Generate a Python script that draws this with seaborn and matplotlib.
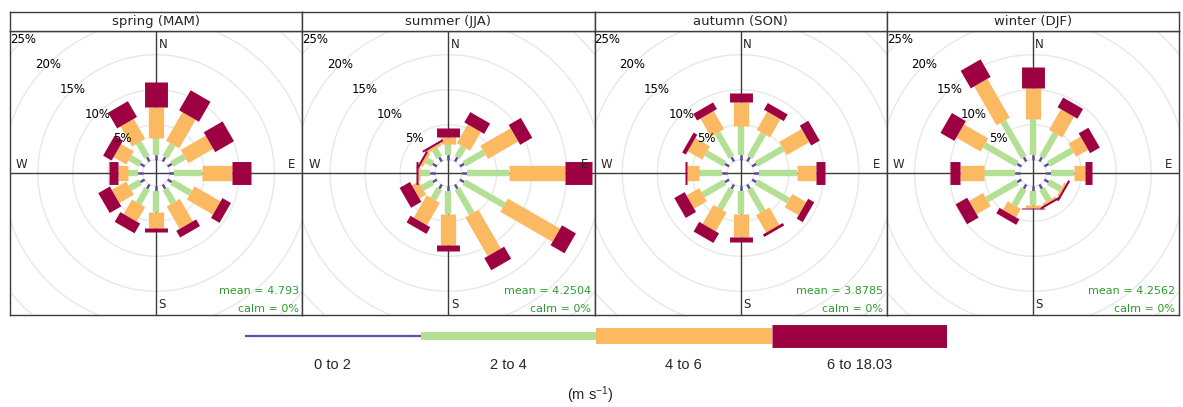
import numpy as np
import matplotlib
matplotlib.use("Agg")
import matplotlib.pyplot as plt
import seaborn as sns

# ---------------- data ----------------
seasons = ["spring (MAM)", "summer (JJA)", "autumn (SON)", "winter (DJF)"]
directions = [0, 30, 60, 90, 120, 150, 180, 210, 240, 270, 300, 330]
speed_labels = ["0 to 2", "2 to 4", "4 to 6", "6 to 18.03"]
mean_speed = ["4.793", "4.2504", "3.8785", "4.2562"]
calm_pct = ["0", "0", "0", "0"]
ring_labels = [5, 10, 15, 20, 25]

# frequency (%) per direction for each speed interval
spring_0to2 = [0.7, 0.7, 0.7, 0.7, 0.7, 0.7, 0.7, 0.7, 0.7, 0.7, 0.7, 0.7]
spring_2to4 = [2.4, 2.1, 2.1, 3.9, 3.1, 2.3, 2.9, 2.4, 1.7, 1.4, 1.7, 2.4]
spring_4to6 = [4.4, 4.7, 4.1, 4.4, 4.3, 3.7, 2.3, 2.4, 2.4, 1.4, 2.1, 3.3]
spring_6up = [3.6, 3.3, 3.1, 2.6, 1.4, 1.1, 0.6, 1.6, 1.9, 1.3, 1.4, 2.6]

summer_0to2 = [0.7, 0.7, 0.7, 0.7, 0.7, 0.7, 0.7, 0.7, 0.7, 0.7, 0.7, 0.7]
summer_2to4 = [1.6, 1.7, 3.3, 6.1, 6.6, 4.1, 3.3, 1.7, 1.7, 1.4, 1.0, 1.3]
summer_4to6 = [1.0, 3.1, 5.0, 7.9, 8.6, 6.4, 4.4, 3.7, 1.1, 0.3, 0.4, 0.4]
summer_6up = [1.3, 1.7, 2.0, 3.9, 2.3, 2.0, 0.9, 1.1, 1.7, 0.3, 0.3, 0.3]

autumn_0to2 = [0.7, 0.7, 0.7, 0.7, 0.7, 0.7, 0.7, 0.7, 0.7, 0.7, 0.7, 0.7]
autumn_2to4 = [4.1, 3.9, 4.4, 5.4, 5.3, 3.7, 3.3, 3.3, 3.6, 3.3, 3.1, 4.0]
autumn_4to6 = [3.4, 3.0, 3.7, 2.7, 2.3, 2.9, 3.3, 3.1, 2.1, 1.7, 2.4, 3.0]
autumn_6up = [1.3, 1.1, 1.4, 1.4, 1.0, 0.4, 0.6, 1.6, 1.7, 0.4, 0.6, 1.1]

winter_0to2 = [0.7, 0.7, 0.7, 0.7, 0.7, 0.7, 0.7, 0.7, 0.7, 0.7, 0.7, 0.7]
winter_2to4 = [5.1, 3.9, 3.9, 3.3, 2.0, 1.9, 2.0, 2.7, 5.0, 4.4, 5.4, 5.9]
winter_4to6 = [4.4, 3.4, 2.0, 1.6, 0.3, 0.3, 0.4, 1.4, 2.3, 3.4, 4.0, 6.4]
winter_6up = [3.1, 1.6, 1.6, 1.0, 0.3, 0.3, 0.15, 0.9, 1.9, 1.4, 2.3, 2.9]

season_data = [
    [spring_0to2, spring_2to4, spring_4to6, spring_6up],
    [summer_0to2, summer_2to4, summer_4to6, summer_6up],
    [autumn_0to2, autumn_2to4, autumn_4to6, autumn_6up],
    [winter_0to2, winter_2to4, winter_4to6, winter_6up],
]

# ---------------- style ----------------
sns.set_theme(style="white")
plt.rcParams["font.family"] = ["DejaVu Sans"]
plt.rcParams["mathtext.fontset"] = "custom"
plt.rcParams["mathtext.rm"] = "Liberation Sans"
plt.rcParams["mathtext.it"] = "Liberation Sans:italic"

colors = sns.color_palette(["#5E4FA2", "#B4E096", "#FBBA62", "#9E0142"])
paddle_lw = [1.8, 4.6, 11.0, 16.5]   # points
legend_lw = [1.6, 5.8, 11.5, 16.5]
grid_col = "#e8e8e8"
axis_col = "#3c3c3c"
calm_col = "#2E9B2E"

W, H = 1183, 407
fig = plt.figure(figsize=(W / 100, H / 100), dpi=100)
fig.patch.set_facecolor("white")

panel_left = 10.0
panel_w = 292.25
strip_top = 12.0
panel_top = 31.0
panel_bottom = 315.0
px_per_unit = 7.0
offset = 1.9
xhalf = panel_w / 2 / px_per_unit
yhalf = (panel_bottom - panel_top) / 2 / px_per_unit

theta_circle = np.linspace(0, 2 * np.pi, 361)
lab_ang = np.deg2rad(315)

for i, season in enumerate(seasons):
    x0 = panel_left + i * panel_w
    ax = fig.add_axes([x0 / W, 1 - panel_bottom / H, panel_w / W,
                       (panel_bottom - panel_top) / H])
    sax = fig.add_axes([x0 / W, 1 - panel_top / H, panel_w / W,
                        (panel_top - strip_top) / H])

    ax.set_xlim(-xhalf, xhalf)
    ax.set_ylim(-yhalf, yhalf)
    ax.set_xticks([])
    ax.set_yticks([])
    ax.set_facecolor("white")
    for sp in ax.spines.values():
        sp.set_color(axis_col)
        sp.set_linewidth(1.0)

    # grid circles
    for k in range(0, 40, 5):
        r = offset + k
        ax.plot(r * np.sin(theta_circle), r * np.cos(theta_circle),
                color=grid_col, lw=1.0, zorder=1)
    # crosshair
    ax.axhline(0, color=axis_col, lw=1.0, zorder=2)
    ax.axvline(0, color=axis_col, lw=1.0, zorder=2)

    # paddles
    bins = season_data[i]
    for d_idx, d in enumerate(directions):
        ang = np.deg2rad(d)
        r0 = offset
        for j in range(4):
            v = bins[j][d_idx]
            r1 = r0 + v
            ax.plot([r0 * np.sin(ang), r1 * np.sin(ang)],
                    [r0 * np.cos(ang), r1 * np.cos(ang)],
                    color=colors[j], lw=paddle_lw[j],
                    solid_capstyle="butt", zorder=3)
            r0 = r1

    # percentage labels
    for k in ring_labels:
        r = offset + k
        ax.text(r * np.sin(lab_ang), r * np.cos(lab_ang), f"{k}%",
                ha="center", va="center", fontsize=8.5, color="black",
                clip_on=True, zorder=4)

    # compass labels
    ax.text(0.35, 18.4, "N", ha="left", va="center", fontsize=8.5, zorder=4)
    ax.text(0.35, -18.8, "S", ha="left", va="center", fontsize=8.5, zorder=4)
    ax.text(19.4, 0.25, "E", ha="center", va="bottom", fontsize=8.5, zorder=4)
    ax.text(-19.2, 0.25, "W", ha="center", va="bottom", fontsize=8.5, zorder=4)

    # statistics
    ax.text(xhalf - 0.5, -16.9, f"mean = {mean_speed[i]}", ha="right",
            va="center", fontsize=8, color=calm_col, zorder=4)
    ax.text(xhalf - 0.5, -19.4, f"calm = {calm_pct[i]}%", ha="right",
            va="center", fontsize=8, color=calm_col, zorder=4)

    # strip
    sax.set_xticks([])
    sax.set_yticks([])
    sax.set_facecolor("white")
    for sp in sax.spines.values():
        sp.set_color(axis_col)
        sp.set_linewidth(1.0)
    sax.text(0.5, 0.5, season, ha="center", va="center", fontsize=9.5,
             transform=sax.transAxes)

# ---------------- legend ----------------
leg_left, leg_right = 245.0, 947.0
leg_top, leg_bot = 320.0, 352.0
lax = fig.add_axes([leg_left / W, 1 - leg_bot / H, (leg_right - leg_left) / W,
                    (leg_bot - leg_top) / H])
lax.axis("off")
lax.set_xlim(0, 4)
lax.set_ylim(-1, 1)
for j in range(4):
    lax.plot([j, j + 1], [0, 0], color=colors[j], lw=legend_lw[j],
             solid_capstyle="butt")
    xc = leg_left + (leg_right - leg_left) * (j + 0.5) / 4
    fig.text(xc / W, 1 - 365 / H, speed_labels[j], ha="center", va="center",
             fontsize=10.5, family=["Liberation Sans", "DejaVu Sans"])
fig.text(590 / W, 1 - 395 / H, r"(m s$^{-1}$)", ha="center", va="center",
         fontsize=10.5, family=["Liberation Sans", "DejaVu Sans"])

fig.savefig("out.png", dpi=100, facecolor="white")
